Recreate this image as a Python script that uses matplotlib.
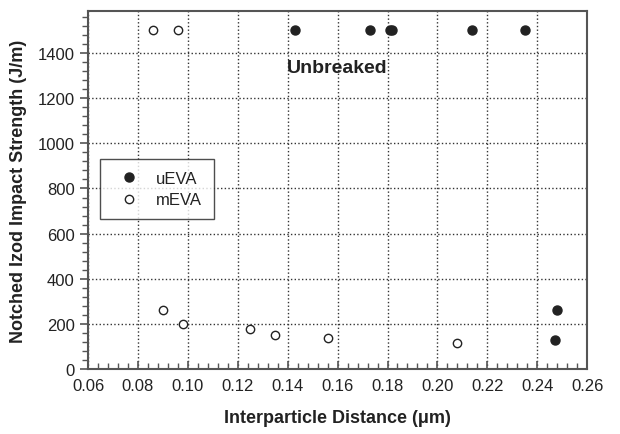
import matplotlib.pyplot as plt
from matplotlib.ticker import MultipleLocator

plt.rcParams['font.family'] = ['Liberation Sans', 'DejaVu Sans']

# uEVA (filled)
u_x = [0.143, 0.173, 0.181, 0.182, 0.214, 0.235, 0.248, 0.247]
u_y = [1500, 1500, 1500, 1500, 1500, 1500, 260, 127]
# mEVA (open)
m_x = [0.086, 0.096, 0.090, 0.098, 0.125, 0.135, 0.156, 0.208]
m_y = [1500, 1500, 260, 202, 180, 151, 140, 116]

fig = plt.figure(figsize=(6.2, 4.35), dpi=100)
ax = fig.add_axes([0.142, 0.149, 0.805, 0.823])

ax.plot(u_x, u_y, 'o', color='#222222', markersize=6.5, label='uEVA', zorder=3)
ax.plot(m_x, m_y, 'o', markerfacecolor='white', markeredgecolor='#222222',
        markeredgewidth=1.0, markersize=6, label='mEVA', zorder=3)

ax.set_xlim(0.06, 0.26)
ax.set_ylim(0, 1585)
ax.xaxis.set_major_locator(MultipleLocator(0.02))
ax.xaxis.set_minor_locator(MultipleLocator(0.004))
ax.yaxis.set_major_locator(MultipleLocator(200))
ax.yaxis.set_minor_locator(MultipleLocator(40))
ax.xaxis.set_major_formatter(plt.FuncFormatter(lambda v, p: f"{v:.2f}"))

ax.grid(True, which='major', linestyle=':', color='#333333', linewidth=1.0)
ax.set_axisbelow(True)

ax.tick_params(axis='x', which='both', direction='in', colors='#555555',
               labelcolor='#222222', labelsize=12)
ax.tick_params(axis='y', which='both', direction='out', colors='#555555',
               labelcolor='#222222', labelsize=12)
ax.tick_params(which='major', length=6, width=1.2)
ax.tick_params(which='minor', length=4, width=1.0)
ax.tick_params(axis='x', pad=6)
for s in ax.spines.values():
    s.set_color('#555555')
    s.set_linewidth(1.5)

ax.set_xlabel('Interparticle Distance (\u03bcm)', fontsize=13, fontweight='bold',
              color='#222222', labelpad=12)
ax.set_ylabel('Notched Izod Impact Strength (J/m)', fontsize=13, fontweight='bold',
              color='#222222', labelpad=8)

ax.text(0.16, 1335, 'Unbreaked', fontsize=14, fontweight='bold', color='#222222',
        ha='center', va='center')

leg = ax.legend(loc='upper left', bbox_to_anchor=(0.024, 0.587), fontsize=12,
                frameon=True, fancybox=False, handlelength=2.1, handletextpad=0.55,
                borderpad=0.7, labelspacing=0.4, borderaxespad=0)
leg.get_frame().set_edgecolor('#222222')
leg.get_frame().set_linewidth(1.0)
for t in leg.get_texts():
    t.set_color('#222222')

fig.savefig('out.png', dpi=100)
